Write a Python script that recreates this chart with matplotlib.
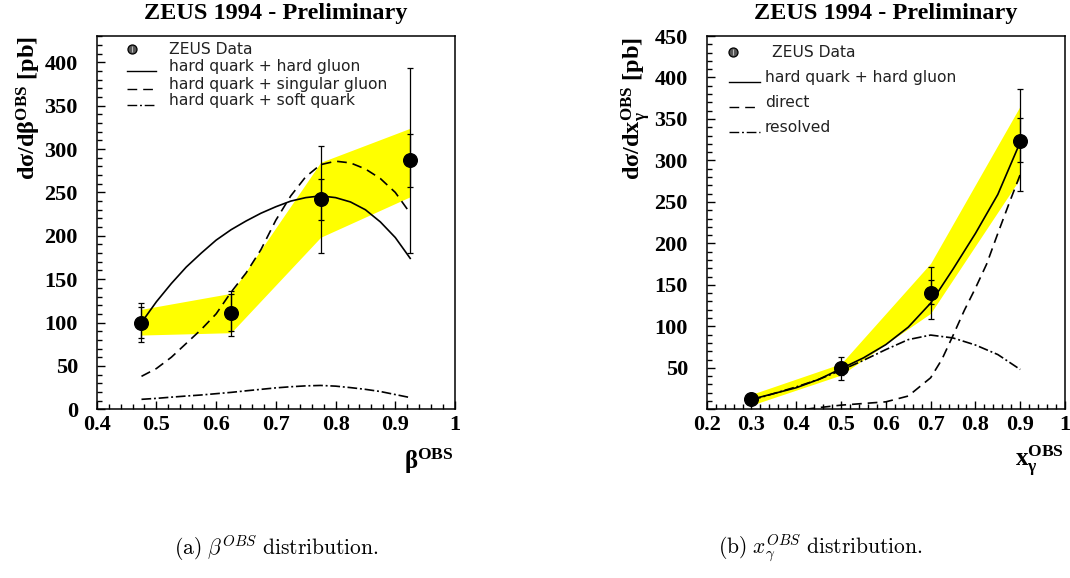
import matplotlib
matplotlib.use("Agg")
import matplotlib.pyplot as plt
from matplotlib.ticker import MultipleLocator, FuncFormatter
import numpy as np

# ---------------- data ----------------
# (a) beta^OBS
beta_x = [0.475, 0.625, 0.775, 0.925]
beta_y = [100, 111, 242, 287]
beta_stat_lo = [81.8, 90.3, 218.2, 255.9]
beta_stat_hi = [118.3, 132.6, 265.9, 317.0]
beta_tot_lo = [77.3, 84.6, 179.8, 179.8]
beta_tot_hi = [122.2, 136.8, 303.9, 393.8]
beta_band_lo = [85.6, 88.3, 198.3, 245.0]
beta_band_hi = [115.3, 133.7, 284.7, 324.0]

beta_curve_x = [0.475, 0.5, 0.525, 0.55, 0.575, 0.6, 0.625, 0.65, 0.675, 0.7,
                0.725, 0.75, 0.775, 0.8, 0.825, 0.85, 0.875, 0.9, 0.925]
hard_gluon = [100, 124, 145, 164, 180, 195, 207, 217, 226, 233.5,
              240, 244, 246, 244, 239, 230, 216, 198, 174]
singular_gluon = [38, 47, 60, 76, 92, 110, 135, 157, 184, 218,
                  246, 268, 282, 286, 284, 277, 266, 250, 226]
soft_quark = [11.5, 12.6, 14, 15.3, 16.5, 18, 19.5, 21.3, 23, 24.7,
              26, 27, 27.5, 26.7, 25, 23, 20.5, 17, 13.5]

# (b) x_gamma^OBS
xg_x = [0.3, 0.5, 0.7, 0.9]
xg_y = [12, 49.4, 140.6, 323.8]
xg_stat_lo = [9, 41, 127, 297.7]
xg_stat_hi = [15, 56, 155.9, 350.8]
xg_tot_lo = [8, 35.3, 108.8, 262.8]
xg_tot_hi = [16, 62.7, 172, 385.7]
xg_band_lo = [5, 41.3, 115.7, 278.5]
xg_band_hi = [18, 55, 176, 365.6]

xg_curve_x = [0.3, 0.35, 0.4, 0.45, 0.5, 0.55, 0.6, 0.65, 0.7, 0.75, 0.8, 0.85, 0.9]
xg_hard = [12, 19, 26, 36, 49, 62, 78, 99, 128, 169, 212, 259, 322]
xg_resolved = [11, 19, 27, 36, 47, 59, 72, 84, 89.5, 86, 77.5, 66, 48]
direct_x = [0.42, 0.45, 0.5, 0.55, 0.6, 0.65, 0.7, 0.725, 0.75, 0.775, 0.8, 0.825, 0.85, 0.875, 0.9]
direct_y = [0, 2, 5, 7, 9, 16, 38, 60, 89, 119, 146, 175, 212, 248, 283]

legend_a = ["ZEUS Data", "hard quark + hard gluon", "hard quark + singular gluon",
            "hard quark + soft quark"]
legend_b = ["ZEUS Data", "hard quark + hard gluon", "direct", "resolved"]

# ---------------- style ----------------
plt.rcParams['lines.scale_dashes'] = False
plt.rcParams['mathtext.fontset'] = 'custom'
plt.rcParams['mathtext.rm'] = 'Liberation Serif:bold'
plt.rcParams['mathtext.bf'] = 'Liberation Serif:bold'
plt.rcParams['mathtext.it'] = 'Liberation Serif:bold'

SERIF = 'Liberation Serif'
LEGFONT = 'DejaVu Sans'
YELLOW = '#ffff00'
DASH = (0, (7, 4.3))
DASHDOT = (0, (7, 2.0, 1.4, 2.0))

W, H = 1070, 578
fig = plt.figure(figsize=(W / 100, H / 100), dpi=100)

def add_ax(x0px):
    return fig.add_axes([x0px / W, 1 - 409.3 / H, 358.3 / W, 373.3 / H])

ax1 = add_ax(96.7)
ax2 = add_ax(706.7)

def fmt(v, pos):
    if abs(v - round(v)) < 1e-9:
        return "%d" % round(v)
    return ("%.1f" % v)

def style_axes(ax, xlim, ylim, show_zero=True):
    ax.set_xlim(*xlim)
    ax.set_ylim(*ylim)
    ax.xaxis.set_major_locator(MultipleLocator(0.1))
    ax.xaxis.set_minor_locator(MultipleLocator(0.02))
    ax.yaxis.set_major_locator(MultipleLocator(50))
    ax.yaxis.set_minor_locator(MultipleLocator(10))
    ax.xaxis.set_major_formatter(FuncFormatter(fmt))
    if show_zero:
        ax.yaxis.set_major_formatter(FuncFormatter(lambda v, p: "%d" % round(v)))
    else:
        ax.yaxis.set_major_formatter(FuncFormatter(lambda v, p: "" if abs(v) < 1e-9 else "%d" % round(v)))
    ax.tick_params(which='both', direction='in', top=False, right=False, width=1.0)
    ax.tick_params(which='major', length=6)
    ax.tick_params(which='minor', length=3.5)
    ax.tick_params(axis='y', which='major', pad=13.5)
    ax.tick_params(axis='x', which='major', pad=4)
    for lab in ax.get_xticklabels() + ax.get_yticklabels():
        lab.set_fontfamily(SERIF)
        lab.set_fontweight('bold')
        lab.set_fontsize(16)
    for s in ax.spines.values():
        s.set_linewidth(1.1)

def draw_data(ax, x, y, slo, shi, tlo, thi):
    y = np.asarray(y)
    ax.errorbar(x, y, yerr=[y - np.asarray(tlo), np.asarray(thi) - y], fmt='none',
                ecolor='k', elinewidth=0.9, capsize=2.5, capthick=0.9, zorder=5)
    ax.errorbar(x, y, yerr=[y - np.asarray(slo), np.asarray(shi) - y], fmt='none',
                ecolor='k', elinewidth=0.9, capsize=2.5, capthick=0.9, zorder=5)
    ax.plot(x, y, 'o', color='k', ms=9.8, zorder=6)

def legend(ax, labels, styles, mx, lx0, lx1, tx0, tx_first, rows):
    ax.plot([mx], [rows[0]], 'o', ms=6.5, mfc='#555555', mec='k', mew=0.9,
            transform=ax.transAxes, clip_on=False)
    ax.plot([mx], [rows[0]], '|', ms=4.5, mec='#bbbbbb', mew=0.8,
            transform=ax.transAxes, clip_on=False)
    ax.text(tx_first, rows[0], labels[0], transform=ax.transAxes, fontsize=11.2,
            family=LEGFONT, va='center', ha='left', color='#222222')
    for lab, ls, r in zip(labels[1:], styles, rows[1:]):
        ax.plot([lx0, lx1], [r - 0.012, r - 0.012], color='k', lw=1.0, ls=ls,
                transform=ax.transAxes, clip_on=False)
        ax.text(tx0, r, lab, transform=ax.transAxes, fontsize=11.2,
                family=LEGFONT, va='center', ha='left', color='#222222')

# ---------------- panel (a) ----------------
ax1.fill_between(beta_x, beta_band_lo, beta_band_hi, color=YELLOW, lw=0, zorder=1)
ax1.plot(beta_curve_x, hard_gluon, color='k', lw=1.2, zorder=3)
ax1.plot(beta_curve_x, singular_gluon, color='k', lw=1.2, ls=DASH, zorder=3)
ax1.plot(beta_curve_x, soft_quark, color='k', lw=1.2, ls=DASHDOT, zorder=3)
draw_data(ax1, beta_x, beta_y, beta_stat_lo, beta_stat_hi, beta_tot_lo, beta_tot_hi)
style_axes(ax1, (0.4, 1.0), (0, 430.3), show_zero=True)
legend(ax1, legend_a, ['-', DASH, DASHDOT], 0.0985, 0.0837, 0.1655, 0.2026, 0.2026,
       [0.964, 0.918, 0.871, 0.827])

# ---------------- panel (b) ----------------
ax2.fill_between(xg_x, xg_band_lo, xg_band_hi, color=YELLOW, lw=0, zorder=1)
ax2.plot(xg_curve_x, xg_hard, color='k', lw=1.2, zorder=3)
ax2.plot(direct_x, direct_y, color='k', lw=1.2, ls=DASH, zorder=3)
ax2.plot(xg_curve_x, xg_resolved, color='k', lw=1.2, ls=DASHDOT, zorder=3)
draw_data(ax2, xg_x, xg_y, xg_stat_lo, xg_stat_hi, xg_tot_lo, xg_tot_hi)
style_axes(ax2, (0.2, 1.0), (0, 450), show_zero=False)
legend(ax2, legend_b, ['-', DASH, DASHDOT], 0.0734, 0.0622, 0.1488, 0.1627, 0.182,
       [0.957, 0.890, 0.823, 0.756])

# ---------------- titles, axis labels, captions ----------------
for cx in (276 / W, 886 / W):
    fig.text(cx, 1 - 14 / H, "ZEUS 1994 - Preliminary", family=SERIF, weight='bold',
             fontsize=17.5, ha='center', va='center')

fig.text(29 / W, 1 - 108 / H, r"$\mathrm{d\sigma/d\beta^{OBS}}$ [pb]", family=SERIF,
         weight='bold', fontsize=17.5, rotation=90, ha='center', va='center')
fig.text(636 / W, 1 - 108 / H, r"$\mathrm{d\sigma/dx_{\gamma}^{OBS}}$ [pb]", family=SERIF,
         weight='bold', fontsize=17.5, rotation=90, ha='center', va='center')

fig.text(454 / W, 1 - 461 / H, r"$\mathrm{\beta^{OBS}}$", family=SERIF, weight='bold',
         fontsize=18, ha='right', va='center')
fig.text(1064 / W, 1 - 461 / H, r"$\mathrm{x_{\gamma}^{OBS}}$", family=SERIF, weight='bold',
         fontsize=18, ha='right', va='center')

fig.text(276 / W, 1 - 548 / H, r"$\mathrm{(a)}\ \beta^{OBS}\ \mathrm{distribution.}$",
         math_fontfamily='cm', fontsize=15.5, ha='center', va='center')
fig.text(820 / W, 1 - 548 / H, r"$\mathrm{(b)}\ x_{\gamma}^{OBS}\ \mathrm{distribution.}$",
         math_fontfamily='cm', fontsize=15.5, ha='center', va='center')

fig.savefig("out.png", dpi=100)
